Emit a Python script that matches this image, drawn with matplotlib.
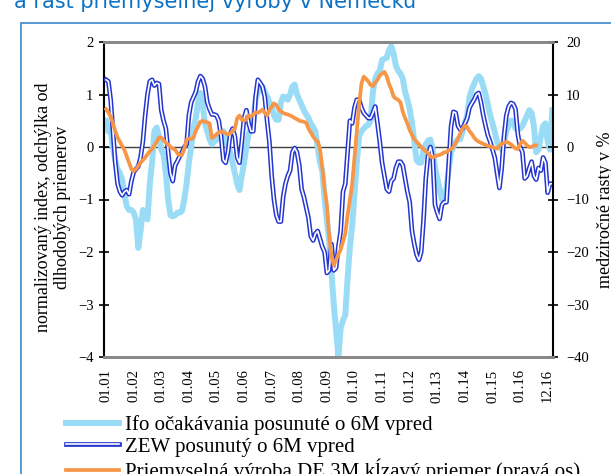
import matplotlib
matplotlib.use('Agg')
import matplotlib.pyplot as plt
from matplotlib.lines import Line2D
from matplotlib.patches import Rectangle
import numpy as np

plt.rcParams['font.family'] = ['Liberation Serif', 'DejaVu Serif']

# mesacne hodnoty od 01.01, lava os (normalizovany index)
ifo = [0.5, 0.3, 0.3, 0.0, -0.25, -0.43, -0.5, -0.62, -0.9, -1.13,
       -1.2, -1.2, -1.25, -1.38, -1.92, -1.6, -1.2, -1.3, -1.38, -0.7,
       -0.3, 0.3, 0.37, 0.2, -0.05, -0.15, -0.5, -1.0, -1.3, -1.32,
       -1.3, -1.25, -1.25, -1.22, -1.0, -0.7, -0.3, 0.0, 0.35, 0.55,
       0.85, 1.03, 0.8, 0.45, 0.3, 0.15, 0.05, 0.1, 0.14, 0.2,
       0.28, 0.3, 0.15, 0.0, -0.1, -0.3, -0.5, -0.7, -0.82, -0.55,
       -0.3, 0.0, 0.25, 0.35, 0.48, 0.9, 1.05, 1.15, 1.15, 1.05,
       0.96, 0.85, 0.77, 0.6, 0.52, 0.52, 0.85, 0.96, 0.95, 0.9,
       1.0, 1.15, 1.19, 1.0, 0.9, 0.8, 0.7, 0.62, 0.55, 0.45,
       0.38, 0.3, 0.0, -0.3, -0.45, -1.0, -1.4, -1.8, -2.4, -3.0,
       -3.5, -3.98, -3.45, -3.3, -3.2, -2.5, -1.9, -1.5, -0.9, -0.3,
       0.2, 0.3, 0.35, 0.4, 0.42, 0.5, 1.05, 1.3, 1.4, 1.45,
       1.66, 1.68, 1.7, 1.85, 1.92, 1.78, 1.55, 1.45, 1.4, 1.3,
       1.05, 0.9, 0.72, 0.45, 0.1, -0.25, -0.3, -0.3, -0.05, 0.05,
       0.12, 0.14, -0.05, -0.4, -0.6, -0.8, -1.0, -0.9, -0.8, -0.4,
       -0.1, 0.0, 0.1, 0.15, 0.15, 0.3, 0.45, 0.6, 0.95, 1.1,
       1.2, 1.3, 1.35, 1.3, 1.15, 1.0, 0.8, 0.6, 0.45, 0.28,
       0.1, 0.0, -0.05, 0.1, 0.3, 0.4, 0.5, 0.5, 0.35, 0.33,
       0.35, 0.4, 0.5, 0.6, 0.7, 0.65, 0.4, -0.1, -0.05, 0.2,
       0.4, 0.45, 0.1, -0.05, 0.7]

zew = [1.28, 1.25, 0.9, 0.3, -0.3, -0.7, -0.85, -0.92, -0.85, -0.82,
       -0.9, -0.65, -0.48, -0.42, -0.37, -0.2, 0.1, 0.6, 1.0, 1.25,
       1.28, 1.17, 1.22, 1.2, 0.7, 0.5, 0.35, -0.1, -0.5, -0.65,
       -0.35, -0.27, -0.18, -0.1, 0.0, 0.05, 0.6, 0.85, 0.95, 1.05,
       1.25, 1.35, 1.3, 1.15, 0.85, 0.72, 0.62, 0.62, 0.6, 0.5,
       0.2, -0.25, -0.3, -0.1, 0.25, 0.35, 0.2, -0.2, -0.3, 0.1,
       0.55, 0.7, 0.45, 0.3, 0.3, 0.95, 1.28, 1.22, 1.15, 0.95,
       0.5, 0.1, -0.55, -1.0, -1.3, -1.42, -1.42, -0.95, -0.7, -0.55,
       -0.45, -0.1, -0.02, -0.1, -0.35, -0.8, -0.95, -1.15, -1.35, -1.7,
       -1.78, -1.65, -1.6, -1.75, -1.9, -2.0, -2.4, -2.35, -1.85, -2.35,
       -2.3, -1.9, -1.6, -0.85, -0.7, -0.1, 0.5, 0.45, 0.75, 0.9,
       0.9, 0.75, 0.65, 0.6, 0.55, 0.55, 0.65, 0.77, 0.45, 0.1,
       -0.3, -0.55, -0.8, -0.85, -0.65, -0.6, -0.4, -0.28, -0.28, -0.35,
       -0.6, -0.85, -1.05, -1.6, -1.85, -2.05, -2.15, -2.0, -1.4, -0.6,
       -0.15, 0.0, -0.2, -1.1, -1.25, -1.37, -1.1, -1.05, -1.05, -0.3,
       0.4, 0.67, 0.65, 0.4, 0.33, 0.35, 0.45, 0.55, 0.75, 0.83,
       0.9, 1.0, 1.03, 0.85, 0.6, 0.4, 0.22, 0.1, -0.05, -0.2,
       -0.5, -0.78, -0.4, 0.2, 0.6, 0.77, 0.84, 0.82, 0.72, 0.25,
       0.0, -0.1, -0.6, -0.55, -0.4, -0.28, -0.55, -0.62, -0.4, -0.45,
       -0.2, -0.3, -0.87, -0.7, -0.7]

# priemyselna vyroba, medzirocne v %, prava os
ip_3m = [7.2, 6.6, 5.8, 4.5, 3.0, 1.8, 1.0, 0.2, -0.6, -1.8,
         -3.0, -4.2, -4.6, -4.2, -3.6, -3.0, -2.5, -2.0, -1.4, -0.8,
         -0.4, 0.3, 1.0, 1.8, 1.8, 1.3, 0.8, 0.5, 0.0, -0.3,
         -0.5, -1.2, -1.5, -1.5, -0.3, 1.4, 1.6, 1.5, 1.8, 3.0,
         3.9, 4.8, 5.0, 4.8, 4.7, 4.5, 1.7, 2.0, 2.4, 2.8,
         3.0, 2.8, 2.6, 2.4, 2.6, 3.0, 3.5, 5.5, 6.0, 5.2,
         5.0, 5.3, 6.0, 5.8, 6.2, 6.6, 6.5, 6.8, 7.1, 6.5,
         6.0, 7.0, 7.7, 8.3, 8.0, 7.2, 6.8, 6.5, 6.3, 6.2,
         6.0, 5.8, 5.5, 5.3, 5.0, 4.9, 4.8, 4.6, 3.5, 2.8,
         2.0, 1.4, 1.0, -0.3, -4.0, -8.0, -11.0, -17.0, -21.0, -22.5,
         -21.5, -20.5, -19.5, -18.0, -16.5, -13.0, -10.0, -7.0, -2.0, 3.0,
         8.0, 12.0, 13.4, 13.0, 12.5, 11.8, 11.6, 12.3, 12.8, 13.6,
         14.0, 14.3, 13.5, 12.0, 11.0, 9.6, 9.2, 9.0, 8.5, 6.7,
         5.5, 4.5, 3.2, 2.3, 1.5, 1.0, 0.5, 0.0, -0.4, -0.8,
         -1.2, -1.8, -2.0, -1.8, -1.6, -1.5, -1.3, -1.0, -1.0, -0.6,
         -0.4, 0.0, 0.8, 1.6, 2.6, 3.5, 4.1, 3.8, 3.0, 2.5,
         1.8, 1.3, 1.0, 0.8, 0.6, 0.4, 0.2, 0.1, 0.0, -0.2,
         -0.3, 0.2, 0.6, 0.8, 1.0, 0.8, 0.5, 0.1, -0.3, -0.4,
         0.5, 1.2, 0.8, 0.3, 0.0, 0.0, 0.3, 0.3]

tick_pos = [0, 12, 24, 36, 48, 60, 72, 84, 96, 108, 120, 132, 144, 156, 168, 180, 192]
tick_labels = ['01.01', '01.02', '01.03', '01.04', '01.05', '01.06', '01.07', '01.08',
               '01.09', '01.10', '01.11', '01.12', '01.13', '01.14', '01.15', '01.16', '12.16']

series_names = ['Ifo očakávania posunuté o 6M vpred',
                'ZEW posunutý o 6M vpred',
                'Priemyselná výroba DE 3M kĺzavý priemer (pravá os)']

c_ifo = '#9ADCF6'
c_zew = '#2536D0'
c_ip = '#F79646'

W, H = 611, 474
fig = plt.figure(figsize=(W / 100, H / 100), dpi=100)

# ramcek okolo grafu
fig.add_artist(Rectangle((21 / W, -0.1), 1.2, 1 - 23 / H + 0.1, transform=fig.transFigure,
                         fill=False, edgecolor='#3A87D0', lw=1.2))
fig.text(14 / W, 1 - 8 / H, 'a rast priemyselnej výroby v Nemecku', color='#0E72C4',
         fontsize=15, family='DejaVu Sans', va='baseline')

ax = fig.add_axes([104 / W, 1 - 357 / H, 449 / W, 315 / H])
ax.axhline(0, color='#404040', lw=1, zorder=1)
ax.plot(np.arange(len(ifo)), ifo, color=c_ifo, lw=4.3, zorder=2)
ax.plot(np.arange(len(zew)), zew, color=c_zew, lw=3.4, zorder=3)
ax.plot(np.arange(len(zew)), zew, color='white', lw=1.2, zorder=4)
ax.set_ylim(-4, 2)
ax.set_yticks(np.arange(-4, 3, 1))
ax.set_xlim(-0.9, 194.3)
ax.set_xticks(tick_pos)
ax.set_xticklabels(tick_labels, rotation=90)

ax2 = ax.twinx()
ax2.plot(np.arange(len(ip_3m)), ip_3m, color=c_ip, lw=2.7)
ax2.set_ylim(-40, 20)
ax2.set_yticks(np.arange(-40, 30, 10))

for a in (ax, ax2):
    a.spines['top'].set_color('#888888')
    a.spines['top'].set_linewidth(2)
    a.spines['bottom'].set_color('#888888')
    a.spines['bottom'].set_linewidth(2)
ax.spines['right'].set_visible(False)
ax.spines['left'].set_linewidth(1.5)
ax2.spines['left'].set_visible(False)
ax2.spines['right'].set_linewidth(1.5)

ax.tick_params(axis='y', direction='inout', length=7, width=1.2, pad=4, labelsize=10.5)
ax.tick_params(axis='x', length=0, pad=9, labelsize=10.5)
ax2.tick_params(axis='y', direction='inout', length=7, width=1.2, pad=6, labelsize=10.5)

fig.text(53 / W, 1 - 207 / H, 'normalizovaný index, odchýlka od\ndlhodobých priemerov',
         rotation=90, ha='center', va='center', multialignment='center',
         fontsize=13, linespacing=1.2)
fig.text(606 / W, 1 - 210 / H, 'medziročné rasty v %', rotation=90,
         ha='center', va='center', fontsize=13)

h_ifo = Line2D([], [], color=c_ifo, lw=4.3)
h_zew = (Line2D([], [], color=c_zew, lw=3.4), Line2D([], [], color='white', lw=1.2))
h_ip = Line2D([], [], color=c_ip, lw=2.7)
fig.legend([h_ifo, h_zew, h_ip], series_names, loc='upper left',
           bbox_to_anchor=(66 / W, 1 - 415 / H), frameon=False, fontsize=15,
           handlelength=2.55, handletextpad=0.3, labelspacing=0.1,
           borderpad=0, borderaxespad=0)

fig.savefig('out.png', dpi=100)
